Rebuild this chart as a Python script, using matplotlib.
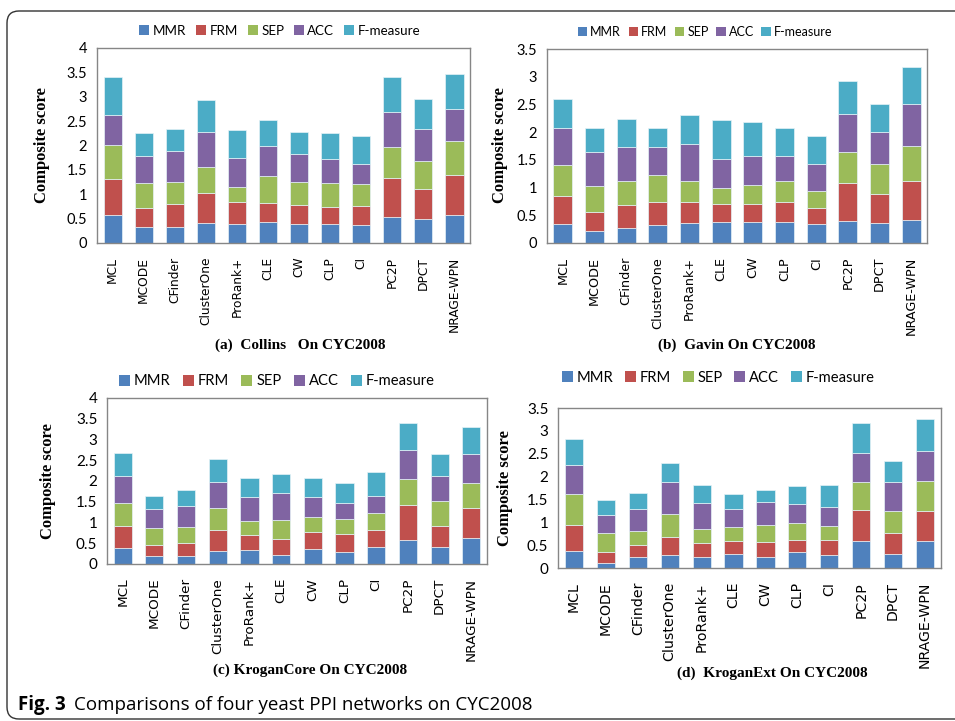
import matplotlib.pyplot as plt
from matplotlib.patches import FancyBboxPatch, Patch

methods = ['MCL', 'MCODE', 'CFinder', 'ClusterOne', 'ProRank+', 'CLE', 'CW',
           'CLP', 'CI', 'PC2P', 'DPCT', 'NRAGE-WPN']
metrics = ['MMR', 'FRM', 'SEP', 'ACC', 'F-measure']
colors = ['#4F81BD', '#C0504D', '#9BBB59', '#8064A2', '#4BACC6']

# Collins
collins_mmr = [0.58, 0.32, 0.32, 0.41, 0.38, 0.43, 0.39, 0.38, 0.36, 0.54, 0.49, 0.57]
collins_frm = [0.74, 0.40, 0.48, 0.61, 0.47, 0.38, 0.39, 0.35, 0.40, 0.80, 0.61, 0.83]
collins_sep = [0.68, 0.50, 0.46, 0.54, 0.30, 0.56, 0.48, 0.50, 0.44, 0.63, 0.58, 0.69]
collins_acc = [0.63, 0.56, 0.63, 0.72, 0.60, 0.62, 0.57, 0.49, 0.43, 0.71, 0.65, 0.65]
collins_f = [0.77, 0.48, 0.44, 0.65, 0.56, 0.54, 0.45, 0.54, 0.57, 0.72, 0.62, 0.72]

# Gavin
gavin_mmr = [0.34, 0.22, 0.27, 0.32, 0.36, 0.38, 0.37, 0.38, 0.34, 0.40, 0.36, 0.42]
gavin_frm = [0.50, 0.33, 0.41, 0.42, 0.38, 0.32, 0.34, 0.36, 0.30, 0.69, 0.53, 0.69]
gavin_sep = [0.57, 0.47, 0.44, 0.48, 0.38, 0.30, 0.33, 0.38, 0.29, 0.56, 0.53, 0.64]
gavin_acc = [0.66, 0.62, 0.62, 0.52, 0.67, 0.52, 0.53, 0.45, 0.49, 0.68, 0.58, 0.75]
gavin_f = [0.52, 0.43, 0.50, 0.33, 0.52, 0.70, 0.61, 0.51, 0.51, 0.60, 0.50, 0.67]

# KroganCore
core_mmr = [0.38, 0.20, 0.18, 0.32, 0.34, 0.22, 0.35, 0.28, 0.42, 0.57, 0.42, 0.63]
core_frm = [0.53, 0.25, 0.33, 0.50, 0.36, 0.39, 0.41, 0.44, 0.40, 0.84, 0.49, 0.72]
core_sep = [0.56, 0.41, 0.37, 0.53, 0.33, 0.46, 0.38, 0.36, 0.40, 0.64, 0.60, 0.60]
core_acc = [0.66, 0.47, 0.52, 0.63, 0.58, 0.63, 0.47, 0.39, 0.43, 0.70, 0.62, 0.70]
core_f = [0.54, 0.31, 0.38, 0.55, 0.45, 0.47, 0.45, 0.47, 0.56, 0.65, 0.52, 0.65]

# KroganExt
ext_mmr = [0.37, 0.11, 0.24, 0.29, 0.24, 0.31, 0.24, 0.34, 0.28, 0.58, 0.31, 0.59]
ext_frm = [0.58, 0.24, 0.26, 0.38, 0.30, 0.28, 0.32, 0.28, 0.34, 0.68, 0.46, 0.66]
ext_sep = [0.66, 0.42, 0.32, 0.51, 0.32, 0.31, 0.37, 0.37, 0.30, 0.63, 0.47, 0.66]
ext_acc = [0.65, 0.39, 0.46, 0.70, 0.57, 0.38, 0.52, 0.40, 0.41, 0.63, 0.64, 0.66]
ext_f = [0.56, 0.32, 0.36, 0.42, 0.39, 0.34, 0.26, 0.40, 0.49, 0.66, 0.45, 0.69]

fig = plt.figure(figsize=(9.55, 7.21), dpi=100)
fig.patch.set_facecolor('white')

# outer frame with a rounded corner
frame = FancyBboxPatch((7, 2), 1000, 708, boxstyle='round,pad=0,rounding_size=12',
                       transform=None, fill=False, edgecolor='#333333', lw=1.0)
fig.add_artist(frame)

panels = [
    dict(rect=[0.1016, 0.663, 0.3906, 0.2705], data=[collins_mmr, collins_frm, collins_sep, collins_acc, collins_f],
         ymax=4, width=0.58, tick=10.5, xtick=8.8, leg=9.6, colsp=0.75, leg_xy=(0.49, 1.087),
         ylab=(42, 145), cap='(a)  Collins   On CYC2008', cap_xy=(300, 345)),
    dict(rect=[0.5728, 0.663, 0.398, 0.269], data=[gavin_mmr, gavin_frm, gavin_sep, gavin_acc, gavin_f],
         ymax=3.5, width=0.6, tick=10.5, xtick=9.2, leg=9.0, colsp=0.6, leg_xy=(0.416, 1.088),
         ylab=(500, 145), cap='(b)  Gavin On CYC2008', cap_xy=(737, 345)),
    dict(rect=[0.112, 0.2178, 0.398, 0.2302], data=[core_mmr, core_frm, core_sep, core_acc, core_f],
         ymax=4, width=0.57, tick=11, xtick=9.7, leg=10.6, colsp=0.85, leg_xy=(0.447, 1.10),
         ylab=(48, 481), cap='(c) KroganCore On CYC2008', cap_xy=(310, 670)),
    dict(rect=[0.5843, 0.2122, 0.401, 0.2219], data=[ext_mmr, ext_frm, ext_sep, ext_acc, ext_f],
         ymax=3.5, width=0.57, tick=11, xtick=10.2, leg=10.6, colsp=0.8, leg_xy=(0.418, 1.19),
         ylab=(505, 488), cap='(d)  KroganExt On CYC2008', cap_xy=(772, 673)),
]

W, H = 955, 721
x = list(range(len(methods)))
for p in panels:
    ax = fig.add_axes(p['rect'])
    bottom = [0.0] * len(methods)
    for vals, col in zip(p['data'], colors):
        ax.bar(x, vals, p['width'], bottom=bottom, color=col, edgecolor='#E6F2F7', linewidth=0.5)
        bottom = [b + v for b, v in zip(bottom, vals)]
    ax.set_xlim(-0.5, len(methods) - 0.5)
    ax.set_ylim(0, p['ymax'])
    yt = [i * 0.5 for i in range(int(p['ymax'] * 2) + 1)]
    ax.set_yticks(yt)
    ax.set_yticklabels([('%g' % t) for t in yt], fontsize=p['tick'], family='Lato')
    ax.set_xticks(x)
    ax.set_xticklabels(methods, rotation=90, fontsize=p['xtick'], family='DejaVu Sans')
    ax.tick_params(axis='both', length=0)
    ax.tick_params(axis='y', pad=7)
    ax.tick_params(axis='x', pad=10)
    for s in ax.spines.values():
        s.set_color('#868686')
        s.set_linewidth(1.0)
    handles = [Patch(facecolor=c, edgecolor='none') for c in colors]
    ax.legend(handles, metrics, loc='center', bbox_to_anchor=p['leg_xy'], ncol=5, frameon=False,
              handlelength=0.75, handleheight=0.75, handletextpad=0.25, columnspacing=p['colsp'],
              prop={'family': 'Lato', 'size': p['leg']})
    fig.text(p['ylab'][0] / W, 1 - p['ylab'][1] / H, 'Composite score', rotation=90,
             ha='center', va='center', fontsize=12, fontweight='bold', family='Liberation Serif')
    fig.text(p['cap_xy'][0] / W, 1 - p['cap_xy'][1] / H, p['cap'], ha='center', va='center',
             fontsize=11, fontweight='bold', family='Liberation Serif')

fig.text(18 / W, 1 - 705 / H, 'Fig. 3', ha='left', va='center', fontsize=13.5, fontweight='bold',
         family='Open Sans')
fig.text(74 / W, 1 - 705 / H, 'Comparisons of four yeast PPI networks on CYC2008', ha='left',
         va='center', fontsize=13.5, family='Open Sans')

plt.savefig('out.png', dpi=100)
